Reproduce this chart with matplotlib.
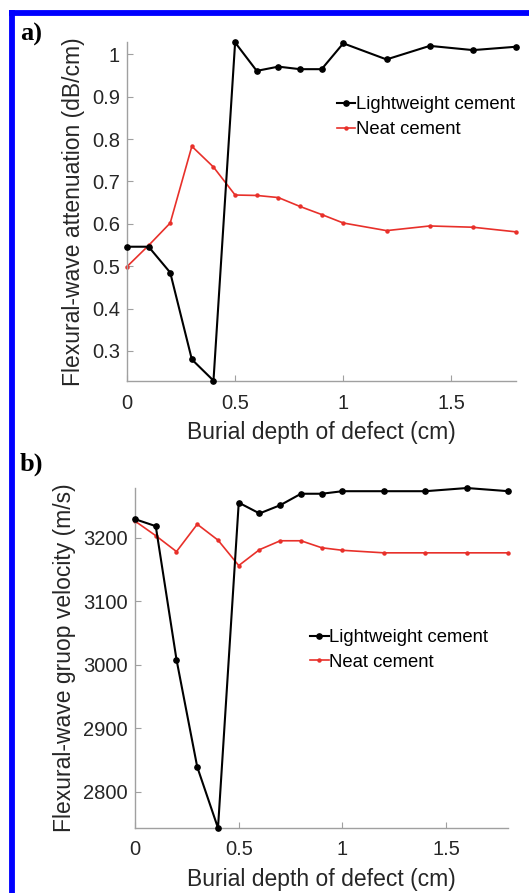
import matplotlib
matplotlib.use("Agg")
import matplotlib.pyplot as plt
from matplotlib.lines import Line2D

plt.rcParams['font.family'] = ['Liberation Sans', 'DejaVu Sans']

# burial depth of the defect (cm)
depth = [0, 0.1, 0.2, 0.3, 0.4, 0.5, 0.6, 0.7, 0.8, 0.9, 1.0, 1.2, 1.4, 1.6, 1.8]

# flexural-wave attenuation (dB/cm)
atten_light = [0.546, 0.546, 0.485, 0.280, 0.230, 1.028, 0.961, 0.971, 0.965, 0.965,
               1.026, 0.988, 1.020, 1.010, 1.018]
atten_neat = [0.499, 0.549, 0.602, 0.783, 0.734, 0.668, 0.667, 0.662, 0.641, 0.622,
              0.602, 0.584, 0.595, 0.592, 0.581]

# flexural-wave group velocity (m/s)
vel_light = [3229, 3218, 3008, 2839, 2743, 3255, 3238, 3251, 3269, 3269,
             3273, 3273, 3273, 3278, 3273]
vel_neat = [3226, 3203, 3178, 3221, 3196, 3156, 3181, 3195, 3195, 3184,
            3180, 3176, 3176, 3176, 3176]

xticks = [0, 0.5, 1, 1.5]
xticklabels = ['0', '0.5', '1', '1.5']
yticks_a = [0.3, 0.4, 0.5, 0.6, 0.7, 0.8, 0.9, 1.0]
yticklabels_a = ['0.3', '0.4', '0.5', '0.6', '0.7', '0.8', '0.9', '1']
yticks_b = [2800, 2900, 3000, 3100, 3200]

fig = plt.figure(figsize=(5.29, 8.93), dpi=100)

ax1 = fig.add_axes([0.240, 0.5733, 0.736, 0.3796])
ax2 = fig.add_axes([0.2552, 0.0728, 0.706, 0.3807])


def style(ax):
    for s in ['top', 'right']:
        ax.spines[s].set_visible(False)
    for s in ['left', 'bottom']:
        ax.spines[s].set_color('#a0a0a0')
        ax.spines[s].set_linewidth(1.0)
    ax.tick_params(direction='in', length=4, color='#a0a0a0',
                   labelsize=14.5, labelcolor='#262626', pad=5)
    ax.tick_params(axis='x', pad=9)
    ax.set_xlim(0, 1.8)
    ax.set_xticks(xticks)
    ax.set_xticklabels(xticklabels)
    ax.set_xlabel('Burial depth of defect (cm)', fontsize=16.5, color='#262626', labelpad=6)


leg_kw = dict(loc='upper left', frameon=False, fontsize=13.3, handlelength=1.0,
              handletextpad=0.05, labelspacing=0.42, borderaxespad=0)

ax1.plot(depth, atten_light, color='black', lw=1.5, marker='o', ms=3.8,
         label='Lightweight cement', clip_on=False, zorder=3)
ax1.plot(depth, atten_neat, color='#e8302a', lw=1.2, marker='o', ms=2.2,
         label='Neat cement', clip_on=False)
style(ax1)
ax1.set_ylim(0.229, 1.029)
ax1.set_yticks(yticks_a)
ax1.set_yticklabels(yticklabels_a)
ax1.set_ylabel('Flexural-wave attenuation (dB/cm)', fontsize=16.5, color='#262626', labelpad=5)
ax1.legend(bbox_to_anchor=(0.52, 0.862), **leg_kw)

ax2.plot(depth, vel_light, color='black', lw=1.5, marker='o', ms=3.8,
         label='Lightweight cement', clip_on=False, zorder=3)
ax2.plot(depth, vel_neat, color='#e8302a', lw=1.2, marker='o', ms=2.2,
         label='Neat cement', clip_on=False)
style(ax2)
ax2.set_ylim(2743, 3278)
ax2.set_yticks(yticks_b)
ax2.set_ylabel('Flexural-wave gruop velocity (m/s)', fontsize=16.5, color='#262626', labelpad=5)
ax2.legend(bbox_to_anchor=(0.449, 0.607), **leg_kw)

# panel letters
fig.text(20 / 529, 1 - 34 / 893, 'a)', fontsize=19, fontweight='bold',
         family='Liberation Serif', va='center', ha='left')
fig.text(20 / 529, 1 - 464 / 893, 'b)', fontsize=19, fontweight='bold',
         family='Liberation Serif', va='center', ha='left')

# blue frame on the left and top
fig.add_artist(Line2D([12 / 529, 12 / 529], [0, 1 - 10 / 893], color='#0000ff',
                      lw=4.2, transform=fig.transFigure, solid_capstyle='butt'))
fig.add_artist(Line2D([9 / 529, 1], [1 - 12.5 / 893, 1 - 12.5 / 893], color='#0000ff',
                      lw=4.2, transform=fig.transFigure, solid_capstyle='butt'))

fig.savefig('out.png', dpi=100)
